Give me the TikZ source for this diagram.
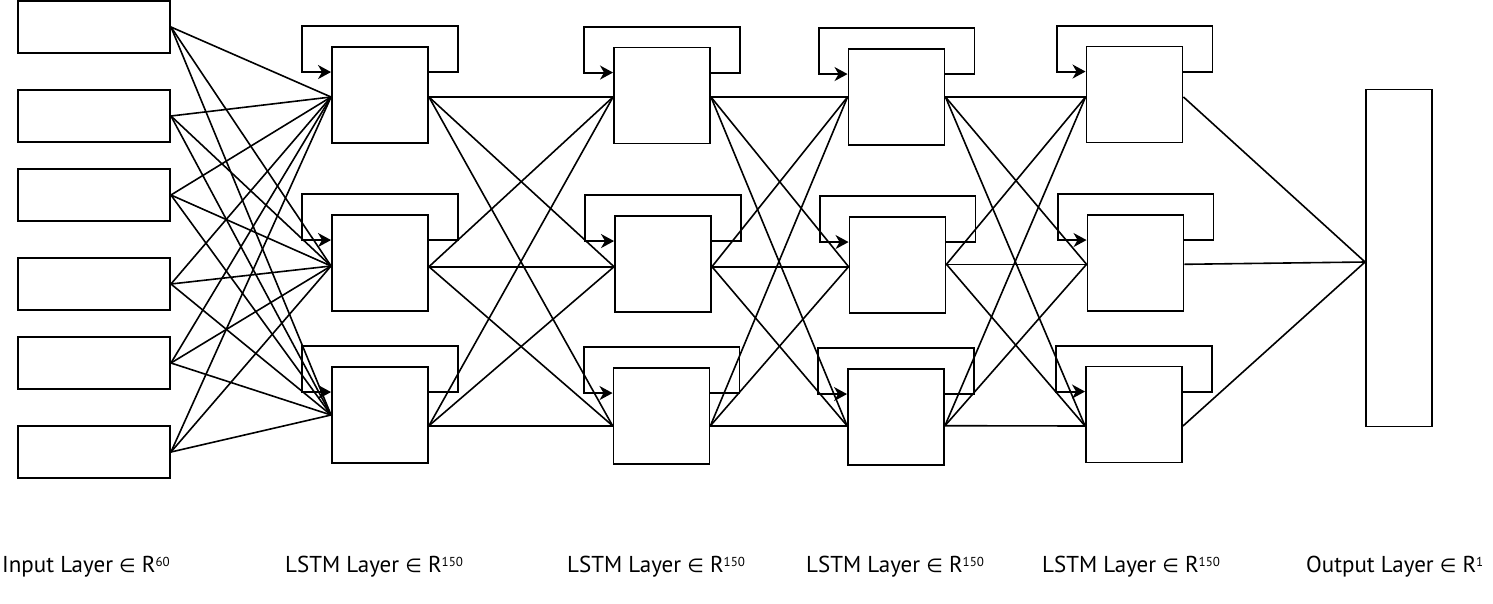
\documentclass[tikz,border=0pt]{standalone}
\usepackage{fontspec}
\setmainfont{PT Sans}
\newfontfamily\symfont{DejaVu Sans}
\usetikzlibrary{arrows.meta,calc}
\newcommand\supnum[1]{\raisebox{5.5pt}{\fontsize{13}{13}\selectfont #1}}
\newcommand\elem{{\symfont\fontsize{19}{19}\selectfont ∈}}
\begin{document}
\begin{tikzpicture}[x=1pt,y=-1pt,
  inbox/.style={draw=black, line width=1.9pt, minimum width=152pt, minimum height=52pt, inner sep=0pt},
  cell/.style={draw=black, line width=1.9pt, minimum width=96pt, minimum height=96pt, inner sep=0pt},
  outbox/.style={draw=black, line width=1.9pt, minimum width=66pt, minimum height=337pt, inner sep=0pt},
  wire/.style={draw=black, line width=1.6pt},
  loopline/.style={draw=black, line width=1.9pt, -{Stealth[length=13pt,width=14pt,inset=4pt]}},
  lbl/.style={anchor=base west, inner sep=0pt, font=\fontsize{23}{26}\selectfont}]
\useasboundingbox (0,0) rectangle (1493,603);

% input layer
\node[inbox] (i1) at (94,27) {};
\node[inbox] (i2) at (94,116) {};
\node[inbox] (i3) at (94,195) {};
\node[inbox] (i4) at (94,284) {};
\node[inbox] (i5) at (94,363) {};
\node[inbox] (i6) at (94,452) {};

% LSTM layers
\node[cell] (a1) at (380,95) {};
\node[cell] (a2) at (380,263) {};
\node[cell] (a3) at (380,415) {};
\node[cell] (b1) at (662,95.5) {};
\node[cell] (b2) at (663,264) {};
\node[cell] (b3) at (661.5,416) {};
\node[cell] (c1) at (896.5,97) {};
\node[cell] (c2) at (897.5,265) {};
\node[cell] (c3) at (896,417) {};
\node[cell] (d1) at (1134.5,94.5) {};
\node[cell] (d2) at (1135.5,263) {};
\node[cell] (d3) at (1134,414.5) {};

% output layer
\node[outbox] (o) at (1399,258) {};

% connection points
\coordinate (a1in) at (a1.west |- 0,97);
\coordinate (a2in) at (a2.west |- 0,266);
\coordinate (a3in) at (a3.west |- 0,415);
\coordinate (a1out) at (a1.east |- 0,97);
\coordinate (a2out) at (a2.east |- 0,266.7);
\coordinate (a3out) at (a3.east |- 0,425.7);
\coordinate (b1in) at (b1.west |- 0,97);
\coordinate (b2in) at (b2.west |- 0,266.7);
\coordinate (b3in) at (b3.west |- 0,425.7);
\coordinate (b1out) at (b1.east |- 0,97);
\coordinate (b2out) at (b2.east |- 0,266.7);
\coordinate (b3out) at (b3.east |- 0,425.7);
\coordinate (c1in) at (c1.west |- 0,97);
\coordinate (c2in) at (c2.west |- 0,266.7);
\coordinate (c3in) at (c3.west |- 0,425.7);
\coordinate (c1out) at (c1.east |- 0,97);
\coordinate (c2out) at (c2.east |- 0,264.3);
\coordinate (c3out) at (c3.east |- 0,425.7);
\coordinate (d1in) at (d1.west |- 0,97);
\coordinate (d2in) at (d2.west |- 0,264.3);
\coordinate (d3in) at (d3.west |- 0,426);
\coordinate (d1out) at (d1.east |- 0,97);
\coordinate (d2out) at (d2.east |- 0,264.3);
\coordinate (d3out) at (d3.east |- 0,426);
\coordinate (oin) at (o.west |- 0,262);

% wires input -> LSTM 1
\foreach \s in {i1,i2,i3,i4,i5,i6}
  \foreach \t in {a1in,a2in,a3in}
    \draw[wire] (\s.east) -- (\t);
% LSTM -> LSTM
\foreach \s in {a1out,a2out,a3out}
  \foreach \t in {b1in,b2in,b3in}
    \draw[wire] (\s) -- (\t);
\foreach \s in {b1out,b2out,b3out}
  \foreach \t in {c1in,c2in,c3in}
    \draw[wire] (\s) -- (\t);
\foreach \s in {c1out,c2out,c3out}
  \foreach \t in {d1in,d2in,d3in}
    \draw[wire] (\s) -- (\t);
% LSTM 4 -> output
\foreach \s in {d1out,d2out,d3out}
  \draw[wire] (\s) -- (oin);

% recurrent self loops
\foreach \X in {a1,a2,a3,b1,b2,b3,c1,c2,c3,d1,d2,d3}
  \draw[loopline] ($(\X.north east)+(0,26)$) -- ++(29,0) -- ++(0,-46)
     -| ($(\X.north west)+(-29,26)$) -- ($(\X.north west)+(0,26)$);

% labels
\node[lbl] (t0) at (2,572) {Input Layer \elem{} R\supnum{60}};
\node[lbl] (t1) at (285,572) {LSTM Layer \elem{} R\supnum{150}};
\node[lbl] (t2) at (567,572) {LSTM Layer \elem{} R\supnum{150}};
\node[lbl] (t3) at (806,572) {LSTM Layer \elem{} R\supnum{150}};
\node[lbl] (t4) at (1042,572) {LSTM Layer \elem{} R\supnum{150}};
\node[lbl] (t5) at (1306,572) {Output Layer \elem{} R\supnum{1}};
\end{tikzpicture}
\end{document}
